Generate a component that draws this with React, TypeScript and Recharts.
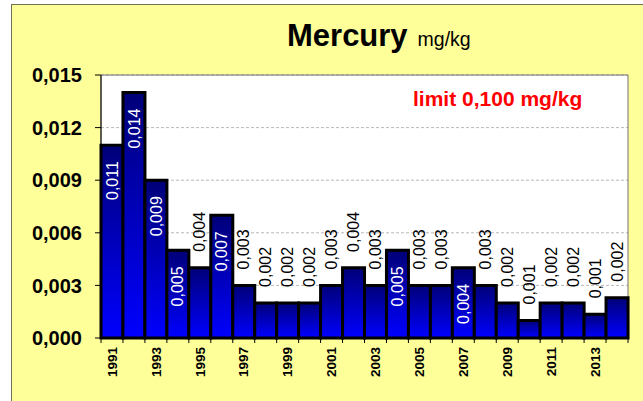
import { BarChart, Bar, XAxis, YAxis, CartesianGrid, ReferenceArea, LabelList } from 'recharts';

// Mercury content, mg/kg, by year
const years = [
  '1991', '1992', '1993', '1994', '1995', '1996', '1997', '1998', '1999', '2000', '2001', '2002',
  '2003', '2004', '2005', '2006', '2007', '2008', '2009', '2010', '2011', '2012', '2013', '2014',
];
const mercury = [
  0.011, 0.014, 0.009, 0.005, 0.004, 0.007, 0.003, 0.002, 0.002, 0.002, 0.003, 0.004,
  0.003, 0.005, 0.003, 0.003, 0.004, 0.003, 0.002, 0.001, 0.002, 0.002, 0.00135, 0.0023,
];
// years whose value label sits inside the bar (white)
const insideLabels = ['1991', '1992', '1993', '1994', '1996', '2004', '2007'];
const yTicks = [0, 0.003, 0.006, 0.009, 0.012, 0.015];

const data = years.map((year, i) => ({ year, value: mercury[i] }));

const FONT = '"Liberation Sans", Arial, sans-serif';
const W = 643;
const H = 401;
const MARGIN = { top: 75, right: 15, left: 11, bottom: 0 };
const Y_AXIS_W = 90;
const PLOT_W = W - MARGIN.left - Y_AXIS_W - MARGIN.right;
const BAND = PLOT_W / years.length;

const fmt = (v: number) => v.toFixed(3).replace('.', ',');

const YearTick = ({ x, y, payload, index }: any) => {
  const last = index === years.length - 1;
  return (
    <g>
      <line x1={x - BAND / 2} y1={y} x2={x - BAND / 2} y2={y + 5} stroke="#000" />
      {last && <line x1={x + BAND / 2} y1={y} x2={x + BAND / 2} y2={y + 5} stroke="#000" />}
      {index % 2 === 0 && (
        <text
          x={x}
          y={y + 9}
          dy="0.35em"
          transform={`rotate(-90, ${x}, ${y + 9})`}
          textAnchor="end"
          fontFamily={FONT}
          fontWeight="bold"
          fontSize={13.5}
          fill="#000"
        >
          {payload.value}
        </text>
      )}
    </g>
  );
};

const ValueLabel = (props: any) => {
  const { x, y, width, value, index } = props;
  const cx = x + width / 2;
  const inside = insideLabels.includes(years[index]);
  const ty = inside ? y + 16 : y - 16;
  return (
    <text
      x={cx}
      y={ty}
      dy="0.35em"
      transform={`rotate(-90, ${cx}, ${ty})`}
      textAnchor={inside ? 'end' : 'start'}
      fontFamily={FONT}
      fontSize={16}
      fill={inside ? '#fff' : '#000'}
    >
      {fmt(value)}
    </text>
  );
};

export default function App() {
  return (
    <div style={{ position: 'absolute', left: 0, top: 0, width: W, height: H, background: '#fff', overflow: 'hidden' }}>
      <div
        style={{
          position: 'absolute',
          left: 11,
          top: 4,
          width: W,
          height: H,
          background: '#FFFF99',
          borderLeft: '1.5px solid #6f6f52',
          borderTop: '1.5px solid #6f6f52',
        }}
      />
      <div style={{ position: 'absolute', left: 0, top: 0 }}>
        <BarChart width={W} height={H} data={data} margin={MARGIN} barCategoryGap={0}>
          <defs>
            <linearGradient id="hgGrad" x1="0" y1="0" x2="0" y2="1">
              <stop offset="0%" stopColor="#000078" />
              <stop offset="100%" stopColor="#0000ff" />
            </linearGradient>
          </defs>
          <CartesianGrid vertical={false} fill="#fff" stroke="#b8b8b8" strokeDasharray="3 2" />
          <ReferenceArea y1={0} y2={0.015} fill="none" stroke="#707070" strokeWidth={1} />
          <XAxis
            dataKey="year"
            interval={0}
            height={H - 338}
            tickSize={0}
            tickMargin={0}
            tickLine={false}
            axisLine={{ stroke: '#000' }}
            tick={<YearTick />}
          />
          <YAxis
            width={Y_AXIS_W}
            domain={[0, 0.015]}
            ticks={yTicks}
            tickFormatter={fmt}
            tickSize={6}
            tickMargin={13}
            tickLine={{ stroke: '#000' }}
            axisLine={{ stroke: '#000' }}
            tick={{ fill: '#000', fontFamily: FONT, fontWeight: 'bold', fontSize: 20 }}
          />
          <Bar dataKey="value" fill="url(#hgGrad)" stroke="#000" strokeWidth={3} isAnimationActive={false}>
            <LabelList dataKey="value" content={<ValueLabel />} />
          </Bar>
        </BarChart>
      </div>
      <div
        style={{
          position: 'absolute',
          left: 287,
          top: 20,
          fontFamily: FONT,
          lineHeight: 1,
          whiteSpace: 'nowrap',
          color: '#000',
        }}
      >
        <span style={{ fontSize: 31, fontWeight: 'bold' }}>Mercury</span>
        <span style={{ fontSize: 19.5, marginLeft: 10 }}>mg/kg</span>
      </div>
      <div
        style={{
          position: 'absolute',
          left: 413,
          top: 88,
          fontFamily: FONT,
          fontSize: 21,
          fontWeight: 'bold',
          lineHeight: 1,
          whiteSpace: 'nowrap',
          color: '#ff0000',
        }}
      >
        limit 0,100 mg/kg
      </div>
    </div>
  );
}
